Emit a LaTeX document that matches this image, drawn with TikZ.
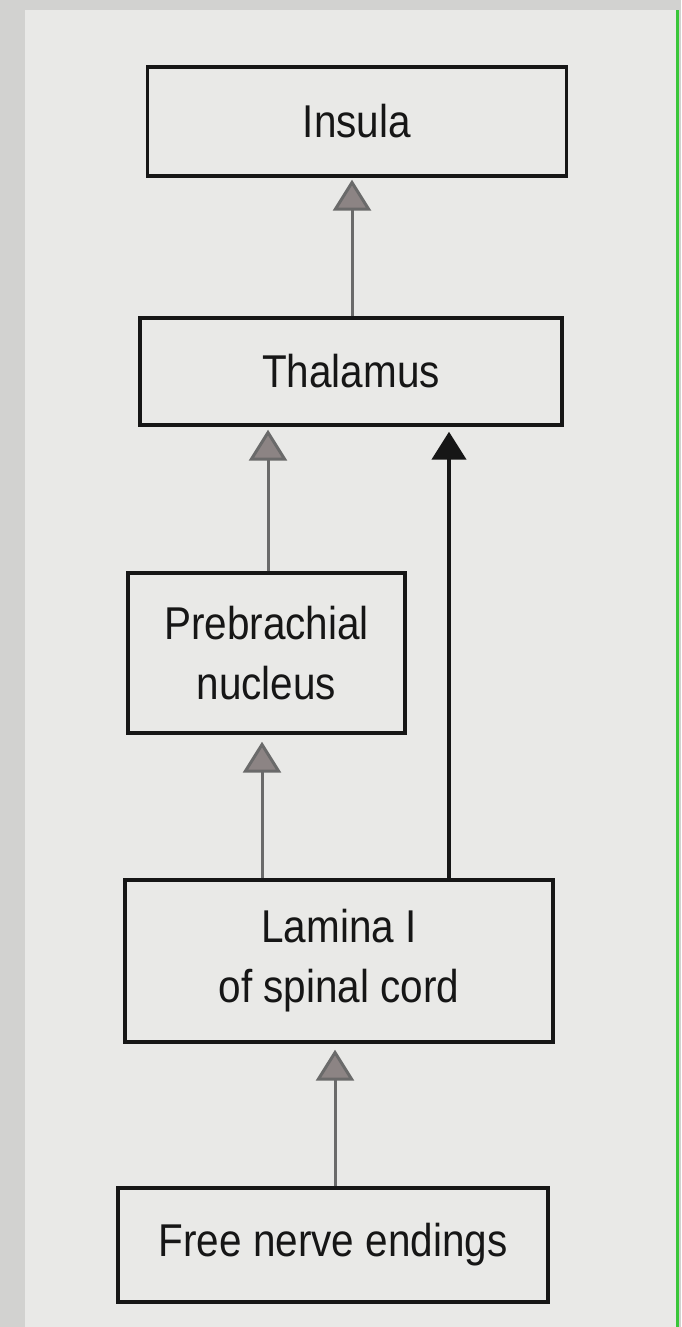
\documentclass[tikz,border=0pt]{standalone}
\usepackage{fontspec}
\setmainfont[FakeStretch=0.88]{Liberation Sans}
\usetikzlibrary{arrows.meta}
\definecolor{paper}{HTML}{E9E9E7}
\definecolor{edge}{HTML}{D2D2D0}
\definecolor{inkc}{HTML}{161616}
\definecolor{greyline}{HTML}{6A6A6A}
\definecolor{greytip}{HTML}{8C8484}
\tikzset{
  box/.style={draw=inkc, line width=3.4pt, fill=none, align=center, inner sep=0pt,
    text=inkc, font=\fontsize{46}{60}\selectfont},
  greyarrow/.style={draw=greyline, line width=3pt,
    -{Triangle[width=38pt,length=31pt,fill=greytip]}},
  blackarrow/.style={draw=inkc, line width=4.5pt,
    -{Triangle[width=34pt,length=28pt]}}
}
\begin{document}
\begin{tikzpicture}[x=1pt,y=-1pt]
\useasboundingbox (0,0) rectangle (681,1327);
\fill[edge] (0,0) rectangle (681,1327);
\fill[paper] (25,10) rectangle (676,1327);
\fill[green!55!gray] (676,10) rectangle (679,1327);

\node[box, minimum width=419pt, minimum height=109pt] (ins) at (357,121.5) {Insula};
\node[box, minimum width=422pt, minimum height=107pt] (thal) at (351,371.5) {Thalamus};
\node[box, minimum width=277pt, minimum height=160pt] (pb) at (266.5,653) {Prebrachial\\nucleus};
\node[box, minimum width=428pt, minimum height=162pt] (lam) at (339,961) {Lamina I\\of spinal cord};
\node[box, minimum width=430pt, minimum height=114pt] (free) at (333,1245) {Free nerve endings};

\draw[greyarrow, shorten >=2pt] (thal.north -| 352,0) -- (ins.south -| 352,0);
\draw[greyarrow, shorten >=3pt] (pb.north -| 268,0) -- (thal.south -| 268,0);
\draw[greyarrow, shorten >=7pt] (lam.north -| 262,0) -- (pb.south -| 262,0);
\draw[blackarrow, shorten >=5pt] (lam.north -| 449,0) -- (thal.south -| 449,0);
\draw[greyarrow, shorten >=6pt] (free.north -| 335,0) -- (lam.south -| 335,0);
\end{tikzpicture}
\end{document}
